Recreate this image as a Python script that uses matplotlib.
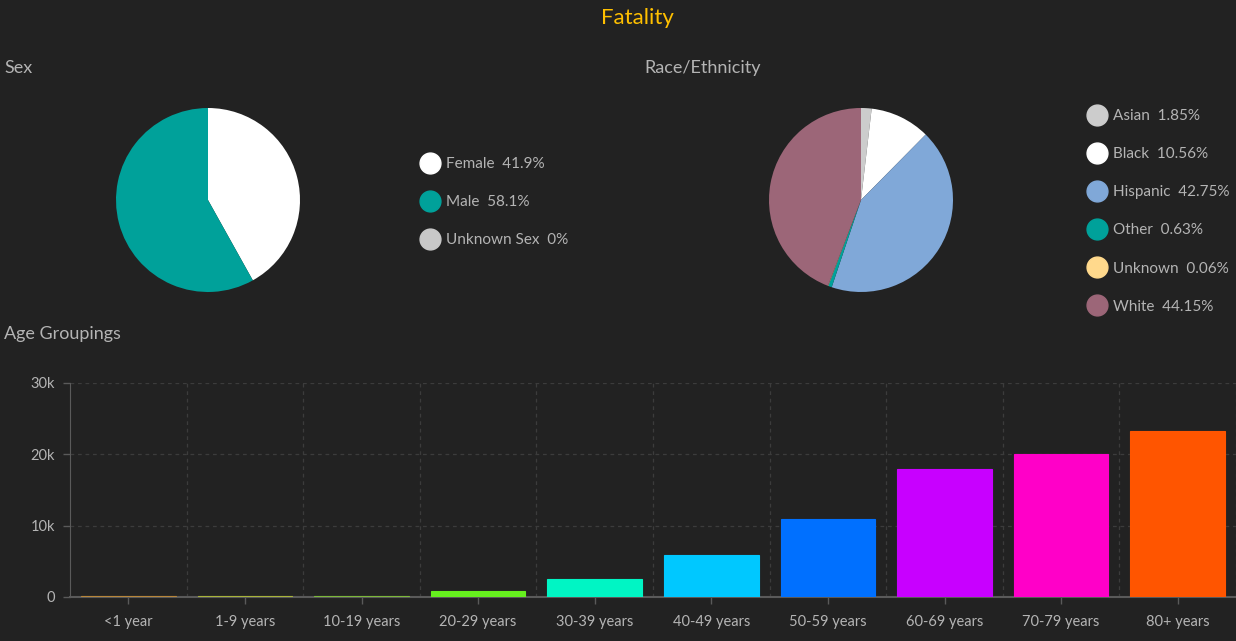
import matplotlib
matplotlib.use("Agg")
import matplotlib.pyplot as plt
from matplotlib.lines import Line2D
from matplotlib.ticker import FixedLocator, FuncFormatter

# ---- data ----
sex_labels = ["Female", "Male", "Unknown Sex"]
sex_pct = [41.9, 58.1, 0.0]
sex_colors = ["#ffffff", "#00a19a", "#c8c8c8"]

race_labels = ["Asian", "Black", "Hispanic", "Other", "Unknown", "White"]
race_pct = [1.85, 10.56, 42.75, 0.63, 0.06, 44.15]
race_colors = ["#cccccc", "#ffffff", "#80a8d8", "#00a19a", "#ffd98c", "#9c6678"]

age_groups = ["<1 year", "1-9 years", "10-19 years", "20-29 years", "30-39 years",
              "40-49 years", "50-59 years", "60-69 years", "70-79 years", "80+ years"]
age_values = [200, 200, 200, 850, 2520, 5890, 10900, 18000, 20100, 23300]
age_colors = ["#b8863a", "#a8b43a", "#7cb83a", "#66f01e", "#00f5c4",
              "#00c8ff", "#0070ff", "#c800ff", "#ff00c8", "#ff5500"]
y_ticks = [0, 10000, 20000, 30000]

BG = "#222222"
TXT = "#b4b4b4"
FONT = ["Lato", "DejaVu Sans"]
plt.rcParams["font.family"] = FONT

W, H = 1236, 641
fig = plt.figure(figsize=(W / 100, H / 100), dpi=100, facecolor=BG)


def px_axes(left, top, width, height):
    return fig.add_axes([left / W, 1 - (top + height) / H, width / W, height / H])


# titles
fig.text(637 / W, 1 - 18 / H, "Fatality", color="#ffc000", fontsize=16,
         ha="center", va="center")
fig.text(4 / W, 1 - 68 / H, "Sex", color=TXT, fontsize=13, ha="left", va="center")
fig.text(644 / W, 1 - 68 / H, "Race/Ethnicity", color=TXT, fontsize=13, ha="left", va="center")
fig.text(4 / W, 1 - 334 / H, "Age Groupings", color=TXT, fontsize=13, ha="left", va="center")

# ---- sex pie ----
r = 92
ax1 = px_axes(208 - r, 200 - r, 2 * r, 2 * r)
ax1.pie(sex_pct, colors=sex_colors, startangle=90, counterclock=False,
        wedgeprops=dict(linewidth=0))
ax1.set_xlim(-1, 1)
ax1.set_ylim(-1, 1)
ax1.set_aspect("equal")
ax1.set_facecolor(BG)


def make_legend(labels, vals, colors, x, y, fmt):
    handles = [Line2D([], [], linestyle="none", marker="o", markersize=15,
                      markerfacecolor=c, markeredgecolor=c) for c in colors]
    texts = [f"{l}  {fmt(v)}%" for l, v in zip(labels, vals)]
    leg = fig.legend(handles, texts, loc="upper left",
                     bbox_to_anchor=(x / W, 1 - y / H), frameon=False,
                     fontsize=11, labelcolor=TXT, labelspacing=1.58,
                     handlelength=1.0, handletextpad=0.55, borderaxespad=0,
                     borderpad=0)
    return leg


make_legend(sex_labels, sex_pct, sex_colors, 422, 157,
            lambda v: ("%g" % v))

# ---- race pie ----
ax2 = px_axes(861 - r, 200 - r, 2 * r, 2 * r)
ax2.pie(race_pct, colors=race_colors, startangle=90, counterclock=False,
        wedgeprops=dict(linewidth=0))
ax2.set_xlim(-1, 1)
ax2.set_ylim(-1, 1)
ax2.set_aspect("equal")
ax2.set_facecolor(BG)

make_legend(race_labels, race_pct, race_colors, 1089, 109,
            lambda v: ("%.2f" % v))

# ---- age bar chart ----
ax3 = px_axes(70, 383, 1166, 214)
ax3.set_facecolor(BG)
x = list(range(len(age_groups)))
ax3.bar(x, age_values, width=0.81, color=age_colors,
        edgecolor=age_colors, linewidth=0.8, zorder=5)
ax3.set_xlim(-0.5, len(age_groups) - 0.5)
ax3.set_ylim(0, 30000)
ax3.set_xticks(x)
ax3.set_xticklabels(age_groups, color=TXT, fontsize=10.5)
ax3.yaxis.set_major_locator(FixedLocator(y_ticks))
ax3.yaxis.set_major_formatter(FuncFormatter(lambda v, p: "0" if v == 0 else f"{int(v/1000)}k"))
ax3.tick_params(axis="y", colors="#5a5a5a", labelcolor=TXT, labelsize=10.5, length=5, width=1, pad=6)
ax3.tick_params(axis="x", colors="#5a5a5a", labelcolor=TXT, length=5, width=1, pad=8)
ax3.set_xticks([i + 0.5 for i in range(len(age_groups))], minor=True)
ax3.tick_params(axis="x", which="minor", length=0)
ax3.grid(axis="x", which="minor", color="#3c3c3c", linestyle=(0, (3, 3)), linewidth=0.9, zorder=0)
ax3.grid(axis="y", which="major", color="#3c3c3c", linestyle=(0, (3, 3)), linewidth=0.9, zorder=0)
ax3.grid(axis="x", which="major", visible=False)
for s in ["top", "right"]:
    ax3.spines[s].set_visible(False)
ax3.spines["left"].set_color("#5a5a5a")
ax3.spines["bottom"].set_color("#5a5a5a")
ax3.spines["bottom"].set_linewidth(1.5)
ax3.spines["bottom"].set_zorder(2)

fig.savefig("out.png", dpi=100, facecolor=BG)
